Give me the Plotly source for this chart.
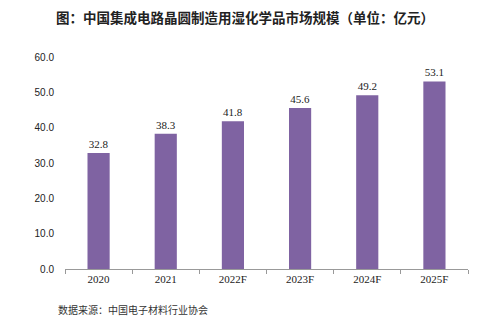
import plotly.graph_objects as go

categories = ["2020", "2021", "2022F", "2023F", "2024F", "2025F"]
values = [32.8, 38.3, 41.8, 45.6, 49.2, 53.1]
y_ticks = [0, 10, 20, 30, 40, 50, 60]
title = "<b>图：中国集成电路晶圆制造用湿化学品市场规模（单位：亿元）</b>"
source = "数据来源：中国电子材料行业协会"

L, R, T, B = 65, 20, 57, 54
W, H = 488, 323
pw, ph = W - L - R, H - T - B

def px_x(x):
    return (x - L) / pw

def px_y(y):
    return (H - B - y) / ph

fig = go.Figure(go.Bar(
    x=categories, y=values,
    marker=dict(color="#7f63a2", line=dict(width=0)),
    width=0.33,
    text=[f"{v:.1f}" for v in values],
    textposition="outside",
    textfont=dict(family="Liberation Serif", size=11, color="#222"),
    cliponaxis=False,
))

fig.update_layout(
    width=W, height=H,
    margin=dict(l=L, r=R, t=T, b=B),
    paper_bgcolor="white", plot_bgcolor="white",
    showlegend=False,
    xaxis=dict(
        showline=True, linecolor="#999", linewidth=1,
        ticks="outside", ticklen=4, tickcolor="#999",
        tickson="boundaries",
        tickfont=dict(family="Liberation Serif", size=11, color="#222"),
        showgrid=False,
    ),
    yaxis=dict(
        range=[0, 60], tickvals=y_ticks,
        ticktext=[f"{v:.1f}" for v in y_ticks],
        showgrid=False, showline=False, zeroline=False,
        tickfont=dict(family="Liberation Sans", size=10, color="#222"),
        ticks="", ticklabelstandoff=10,
    ),
    annotations=[
        dict(text=title, x=px_x(245), y=px_y(17), xref="paper", yref="paper",
             xanchor="center", yanchor="middle", showarrow=False,
             font=dict(family="Noto Sans CJK SC", size=13.5, color="#222")),
        dict(text=source, x=px_x(56), y=px_y(309), xref="paper", yref="paper",
             xanchor="left", yanchor="middle", showarrow=False,
             font=dict(family="Noto Sans CJK SC", size=10, color="#333")),
    ],
)
fig.write_html("out.html")
